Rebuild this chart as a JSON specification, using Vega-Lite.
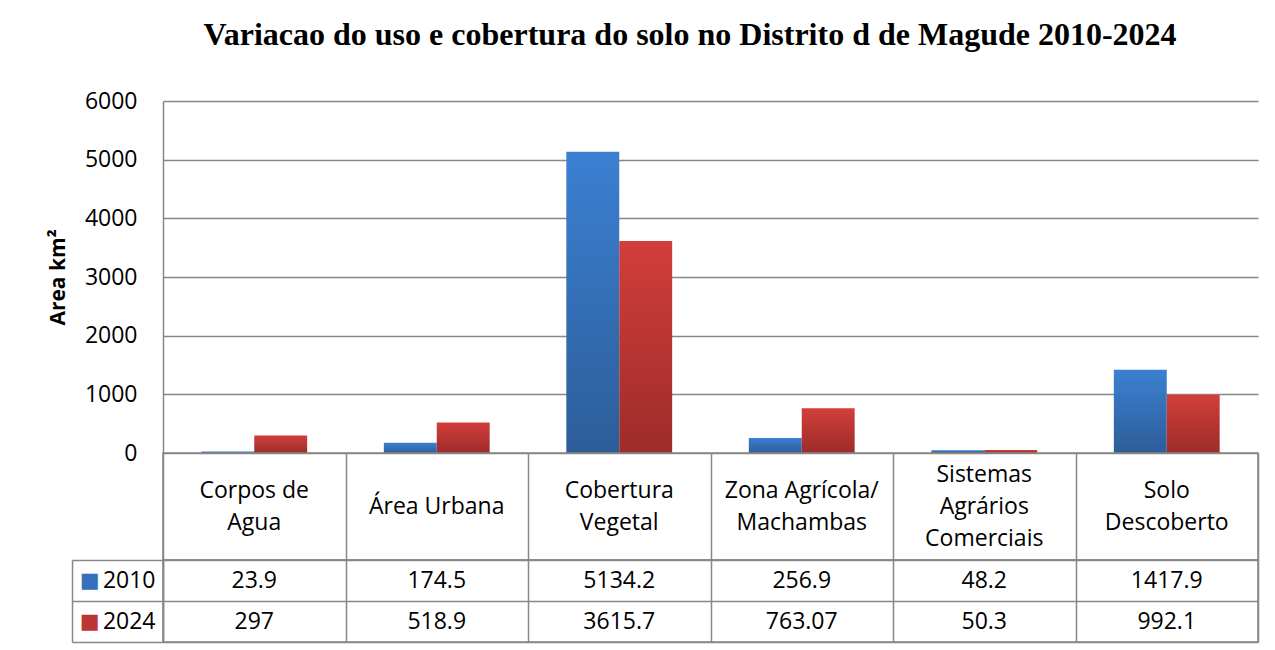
{
  "$schema": "https://vega.github.io/schema/vega-lite/v6.json",
  "background": "white",
  "padding": {"left": 47, "top": 19, "right": 5, "bottom": 5},
  "bounds": "flush",
  "title": {
    "text": "Variacao do uso e cobertura do solo no Distrito d de Magude 2010-2024",
    "font": "Liberation Serif",
    "fontSize": 32,
    "fontWeight": "bold",
    "color": "black",
    "anchor": "middle",
    "dx": 37,
    "offset": 38
  },
  "datasets": {
    "dados": [
      {"categoria": "Corpos de\nAgua", "ano": "2010", "area": 23.9},
      {"categoria": "Corpos de\nAgua", "ano": "2024", "area": 297},
      {"categoria": "Área Urbana", "ano": "2010", "area": 174.5},
      {"categoria": "Área Urbana", "ano": "2024", "area": 518.9},
      {"categoria": "Cobertura\nVegetal", "ano": "2010", "area": 5134.2},
      {"categoria": "Cobertura\nVegetal", "ano": "2024", "area": 3615.7},
      {"categoria": "Zona Agrícola/\nMachambas", "ano": "2010", "area": 256.9},
      {"categoria": "Zona Agrícola/\nMachambas", "ano": "2024", "area": 763.07},
      {"categoria": "Sistemas\nAgrários\nComerciais", "ano": "2010", "area": 48.2},
      {"categoria": "Sistemas\nAgrários\nComerciais", "ano": "2024", "area": 50.3},
      {"categoria": "Solo\nDescoberto", "ano": "2010", "area": 1417.9},
      {"categoria": "Solo\nDescoberto", "ano": "2024", "area": 992.1}
    ]
  },
  "data": {"name": "dados"},
  "spacing": 0,
  "resolve": {"scale": {"x": "independent"}},
  "vconcat": [
    {
      "width": 1095,
      "height": 352,
      "view": {"stroke": null},
      "encoding": {
        "x": {
          "field": "categoria",
          "type": "nominal",
          "sort": null,
          "scale": {"type": "band", "paddingInner": 0.42, "paddingOuter": 0.21},
          "axis": null
        },
        "xOffset": {
          "field": "ano",
          "type": "nominal",
          "scale": {"domain": ["2010", "2024"], "paddingInner": 0, "paddingOuter": 0}
        },
        "y": {
          "field": "area",
          "type": "quantitative",
          "scale": {"domain": [0, 6000], "nice": false},
          "axis": {
            "values": [0, 1000, 2000, 3000, 4000, 5000, 6000],
            "format": "d",
            "grid": true,
            "gridColor": "#878787",
            "gridWidth": 1.5,
            "domainColor": "#878787",
            "domainWidth": 1.5,
            "ticks": false,
            "labelFont": "Open Sans",
            "labelFontSize": 23,
            "labelColor": "black",
            "labelPadding": 26,
            "title": "Area km²",
            "titleFont": "Open Sans",
            "titleFontSize": 21,
            "titleFontWeight": "bold",
            "titleColor": "black",
            "titlePadding": 16
          }
        }
      },
      "layer": [
        {
          "transform": [{"filter": "datum.ano == '2010'"}],
          "mark": {
            "type": "bar",
            "color": {
              "gradient": "linear", "x1": 0, "y1": 0, "x2": 0, "y2": 1,
              "stops": [{"offset": 0, "color": "#3b80d2"}, {"offset": 1, "color": "#2d5d99"}]
            }
          }
        },
        {
          "transform": [{"filter": "datum.ano == '2024'"}],
          "mark": {
            "type": "bar",
            "color": {
              "gradient": "linear", "x1": 0, "y1": 0, "x2": 0, "y2": 1,
              "stops": [{"offset": 0, "color": "#d23e3a"}, {"offset": 1, "color": "#9d2c2a"}]
            }
          }
        }
      ]
    },
    {
      "width": 1095,
      "height": 107,
      "view": {"stroke": "#878787", "strokeWidth": 1.5},
      "transform": [{"filter": "datum.ano == '2010'"}],
      "mark": {
        "type": "text",
        "font": "Open Sans",
        "fontSize": 23,
        "lineBreak": "\n",
        "lineHeight": 32,
        "baseline": "middle",
        "color": "black",
        "dy": {"expr": "-(length(split(datum.categoria, '\\n')) - 1) * 16"}
      },
      "encoding": {
        "x": {
          "field": "categoria",
          "type": "nominal",
          "sort": null,
          "scale": {"type": "band", "paddingInner": 0, "paddingOuter": 0},
          "axis": {
            "orient": "top",
            "grid": true,
            "tickBand": "extent",
            "gridColor": "#878787",
            "gridWidth": 1.5,
            "labels": false,
            "ticks": false,
            "domain": false,
            "title": null
          }
        },
        "text": {"field": "categoria", "type": "nominal"}
      }
    },
    {
      "width": 1095,
      "height": 82,
      "view": {"stroke": "#878787", "strokeWidth": 1.5},
      "encoding": {
        "x": {
          "field": "categoria",
          "type": "nominal",
          "sort": null,
          "scale": {"type": "band", "paddingInner": 0, "paddingOuter": 0},
          "axis": {
            "orient": "top",
            "grid": true,
            "tickBand": "extent",
            "gridColor": "#878787",
            "gridWidth": 1.5,
            "labels": false,
            "ticks": false,
            "domain": false,
            "title": null
          }
        }
      },
      "layer": [
        {
          "mark": {
            "type": "text",
            "font": "Open Sans",
            "fontSize": 23,
            "baseline": "middle",
            "color": "black"
          },
          "encoding": {
            "y": {
              "field": "ano",
              "type": "nominal",
              "scale": {"type": "band", "paddingInner": 0, "paddingOuter": 0},
              "axis": {
                "orient": "left",
                "grid": true,
                "tickBand": "extent",
                "gridColor": "#878787",
                "gridWidth": 1.5,
                "ticks": true,
                "tickSize": 91,
                "tickColor": "#878787",
                "tickWidth": 1.5,
                "domain": true,
                "domainColor": "#878787",
                "domainWidth": 1.5,
                "labelPadding": -83,
                "labelFont": "Open Sans",
                "labelFontSize": 23,
                "labelColor": "black",
                "title": null
              }
            },
            "text": {"field": "area", "type": "nominal"}
          }
        },
        {
          "mark": {"type": "text", "opacity": 0},
          "encoding": {
            "y": {
              "field": "ano",
              "type": "nominal",
              "axis": {
                "orient": "left",
                "offset": 91,
                "grid": false,
                "ticks": false,
                "domain": true,
                "domainColor": "#878787",
                "domainWidth": 1.5,
                "labelExpr": "'■'",
                "labelFont": "DejaVu Sans",
                "labelFontSize": 21,
                "labelPadding": -27,
                "labelColor": {"condition": {"test": "datum.value == '2010'", "value": "#3570bd"}, "value": "#bd3532"},
                "title": null
              }
            },
            "text": {"field": "area", "type": "nominal"}
          }
        }
      ],
      "resolve": {"axis": {"y": "independent"}}
    }
  ]
}
